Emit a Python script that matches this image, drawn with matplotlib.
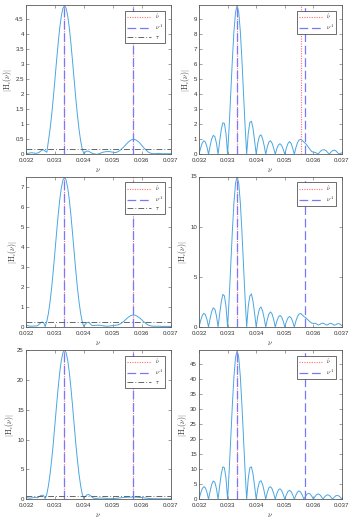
import numpy as np
import matplotlib
matplotlib.use('Agg')
import matplotlib.pyplot as plt
from matplotlib.ticker import FuncFormatter
from matplotlib.lines import Line2D

plt.rcParams['font.family'] = ['Liberation Sans', 'DejaVu Sans']
plt.rcParams['mathtext.fontset'] = 'cm'

# frequency grid (nu) shared by all panels
nu = np.linspace(0.032, 0.037, 91)

# |H_c(nu)|, one array per panel
h_tl = [0.02, 0.03, 0.04, 0.05, 0.05, 0.04, 0.03, 0.04, 0.06, 0.10,
        0.14, 0.15, 0.10, 0.07, 0.46, 0.84, 1.32, 1.87, 2.48, 3.09,
        3.68, 4.20, 4.60, 4.86, 4.95, 4.86, 4.60, 4.20, 3.68, 3.09,
        2.48, 1.87, 1.32, 0.84, 0.46, 0.18, 0.02, 0.08, 0.11, 0.10,
        0.07, 0.04, 0.02, 0.01, 0.00, 0.01, 0.03, 0.05, 0.07, 0.08,
        0.09, 0.09, 0.09, 0.08, 0.07, 0.06, 0.06, 0.08, 0.11, 0.15,
        0.20, 0.25, 0.31, 0.37, 0.42, 0.46, 0.49, 0.50, 0.49, 0.46,
        0.42, 0.37, 0.30, 0.24, 0.18, 0.13, 0.08, 0.05, 0.03, 0.02,
        0.02, 0.02, 0.03, 0.03, 0.02, 0.02, 0.02, 0.02, 0.02, 0.02,
        0.02]
h_tr = [0.00, 0.41, 0.74, 0.90, 0.82, 0.50, 0.00, 0.56, 1.02, 1.26,
        1.17, 0.73, 0.00, 0.86, 1.64, 2.10, 2.05, 1.35, 0.00, 1.89,
        4.09, 6.30, 8.19, 9.45, 9.90, 9.45, 8.19, 6.30, 4.09, 1.89,
        0.00, 1.40, 2.12, 2.20, 1.72, 0.90, 0.00, 0.75, 1.20, 1.30,
        1.05, 0.58, 0.00, 0.50, 0.82, 0.90, 0.74, 0.41, 0.00, 0.38,
        0.63, 0.70, 0.59, 0.33, 0.00, 0.42, 0.72, 0.85, 0.72, 0.40,
        0.00, 0.45, 0.78, 0.95, 1.00, 0.92, 0.82, 0.72, 0.60, 0.45,
        0.30, 0.18, 0.14, 0.13, 0.08, 0.01, 0.15, 0.25, 0.30, 0.30,
        0.24, 0.12, 0.01, 0.14, 0.24, 0.28, 0.24, 0.14, 0.02, 0.06,
        0.10]
h_ml = [0.08, 0.07, 0.05, 0.04, 0.04, 0.05, 0.05, 0.06, 0.12, 0.20,
        0.25, 0.22, 0.02, 0.30, 0.70, 1.28, 1.99, 2.84, 3.75, 4.69,
        5.58, 6.37, 6.97, 7.37, 7.50, 7.37, 6.97, 6.37, 5.58, 4.69,
        3.75, 2.84, 1.99, 1.28, 0.70, 0.28, 0.02, 0.15, 0.22, 0.24,
        0.16, 0.08, 0.07, 0.08, 0.09, 0.09, 0.09, 0.08, 0.06, 0.05,
        0.04, 0.04, 0.05, 0.06, 0.07, 0.08, 0.09, 0.10, 0.13, 0.17,
        0.23, 0.29, 0.37, 0.44, 0.51, 0.56, 0.59, 0.60, 0.59, 0.55,
        0.50, 0.44, 0.37, 0.29, 0.22, 0.16, 0.10, 0.07, 0.05, 0.04,
        0.04, 0.04, 0.04, 0.04, 0.03, 0.03, 0.03, 0.03, 0.03, 0.03,
        0.03]
h_mr = [0.00, 0.62, 1.13, 1.36, 1.24, 0.75, 0.00, 0.84, 1.55, 1.91,
        1.77, 1.10, 0.00, 1.30, 2.48, 3.25, 3.10, 2.05, 0.00, 2.87,
        6.20, 9.56, 12.41, 14.33, 15.00, 14.33, 12.41, 9.56, 6.20, 2.87,
        0.00, 2.05, 3.10, 3.30, 2.55, 1.35, 0.00, 1.10, 1.80, 2.00,
        1.62, 0.88, 0.00, 0.75, 1.30, 1.50, 1.30, 0.75, 0.00, 0.58,
        1.00, 1.15, 1.00, 0.58, 0.00, 0.53, 0.91, 1.05, 0.91, 0.53,
        0.00, 0.60, 1.05, 1.30, 1.35, 1.20, 1.05, 0.95, 0.80, 0.65,
        0.50, 0.38, 0.35, 0.38, 0.30, 0.20, 0.25, 0.35, 0.38, 0.32,
        0.20, 0.22, 0.33, 0.37, 0.30, 0.18, 0.22, 0.32, 0.34, 0.25,
        0.12]
h_bl = [0.30, 0.25, 0.20, 0.20, 0.25, 0.30, 0.30, 0.25, 0.40, 0.60,
        0.70, 0.60, 0.10, 0.92, 2.33, 4.25, 6.63, 9.38, 12.50, 15.63,
        18.60, 21.20, 23.25, 24.55, 25.00, 24.55, 23.25, 21.20, 18.60, 15.63,
        12.50, 9.38, 6.63, 4.25, 2.33, 0.92, 0.10, 0.50, 0.75, 0.80,
        0.65, 0.40, 0.20, 0.15, 0.15, 0.18, 0.20, 0.20, 0.20, 0.18,
        0.15, 0.12, 0.10, 0.10, 0.12, 0.14, 0.16, 0.19, 0.22, 0.25,
        0.28, 0.31, 0.33, 0.35, 0.36, 0.37, 0.37, 0.37, 0.36, 0.35,
        0.33, 0.31, 0.28, 0.25, 0.22, 0.19, 0.16, 0.13, 0.11, 0.10,
        0.10, 0.10, 0.09, 0.09, 0.09, 0.08, 0.08, 0.08, 0.08, 0.08,
        0.08]
h_br = [0.00, 1.95, 3.50, 4.20, 3.85, 2.35, 0.00, 2.70, 4.95, 6.10,
        5.65, 3.50, 0.00, 4.40, 8.40, 10.80, 10.50, 6.95, 0.00, 9.45,
        20.47, 31.53, 40.94, 47.27, 49.50, 47.27, 40.94, 31.53, 20.47, 9.45,
        0.00, 6.95, 10.50, 10.80, 8.40, 4.40, 0.00, 3.55, 5.75, 6.20,
        5.00, 2.75, 0.00, 2.35, 3.85, 4.20, 3.50, 1.95, 0.00, 1.90,
        3.15, 3.50, 2.95, 1.65, 0.00, 1.55, 2.60, 3.00, 2.55, 1.45,
        0.00, 1.40, 2.40, 2.80, 2.40, 1.40, 0.10, 1.00, 1.75, 2.00,
        1.75, 1.00, 0.05, 0.90, 1.55, 1.80, 1.55, 0.90, 0.05, 0.75,
        1.30, 1.50, 1.30, 0.75, 0.05, 0.65, 1.12, 1.30, 1.12, 0.65,
        0.05]

# estimated (nu_hat) and actual (nu_A) frequencies, thresholds
nu_a = [0.03333, 0.03571]
nu_hat_tl = [0.03333, 0.03571]
nu_hat_tr = [0.03333, 0.03558]
nu_hat_ml = [0.03333, 0.03571]
nu_hat_mr = [0.03333]
nu_hat_bl = [0.03333, 0.03571]
nu_hat_br = [0.03333]
tau_tl = 0.18
tau_ml = 0.23
tau_bl = 0.62

ymax = [4.97, 9.93, 7.55, 15.0, 25.0, 49.7]
ystep = [0.5, 1, 1, 5, 5, 5]

curve_col = '#4aa6e2'
hat_col = '#ff6f6f'
a_col = '#7878ff'
tau_col = '0.3'
frame_col = '0.35'

hat_ls = (0, (1, 1.2))
a_ls = (0, (7, 3))
tau_ls = (0, (7, 2.5, 1, 2.5))


def panel(ax, h, nu_hat, top, step, tau=None):
    ax.plot(nu, h, color=curve_col, lw=0.7)
    for v in nu_hat:
        ax.axvline(v, color=hat_col, lw=0.8, linestyle=hat_ls)
    for v in nu_a:
        ax.axvline(v, color=a_col, lw=0.9, linestyle=a_ls)
    handles = [Line2D([], [], color=hat_col, lw=0.8, linestyle=hat_ls),
               Line2D([], [], color=a_col, lw=0.9, linestyle=a_ls)]
    labels = [r'$\hat{\nu}$', r'$\nu^A$']
    if tau is not None:
        ax.axhline(tau, color=tau_col, lw=0.6, linestyle=tau_ls)
        handles.append(Line2D([], [], color=tau_col, lw=0.6, linestyle=tau_ls))
        labels.append(r'$\tau$')
    ax.set_xlim(0.032, 0.037)
    ax.set_ylim(0, top)
    ax.set_xticks([0.032, 0.033, 0.034, 0.035, 0.036, 0.037])
    ax.xaxis.set_major_formatter(FuncFormatter(lambda v, p: '%.3f' % v))
    ax.set_yticks(np.arange(0, top + 1e-9, step))
    ax.yaxis.set_major_formatter(FuncFormatter(lambda v, p: '%g' % v))
    ax.tick_params(direction='in', length=2, width=0.4, labelsize=4.4,
                   top=True, right=True, colors=frame_col, labelcolor='0.2')
    ax.tick_params(axis='x', pad=2.8)
    ax.tick_params(axis='y', pad=1.5)
    for s in ax.spines.values():
        s.set_linewidth(0.6)
        s.set_color(frame_col)
    ax.set_xlabel(r'$\nu$', fontsize=5.5, labelpad=2, color='0.2')
    ax.set_ylabel(r'$|\mathrm{H}_c(\nu)|$', fontsize=5.5, labelpad=1, color='0.2')
    leg = ax.legend(handles, labels, loc='upper right', fontsize=4,
                    handlelength=4.2, borderaxespad=1.0, borderpad=0.35,
                    labelspacing=0.25, handletextpad=0.8, fancybox=False,
                    framealpha=1, edgecolor='0.2')
    leg.get_frame().set_linewidth(0.5)


fig = plt.figure(figsize=(3.51, 5.21), dpi=100)
W, H = 351, 521
lefts = [26 / W, 199 / W]
widths = [144.5 / W, 143 / W]
rows = [(5, 154.3), (176.5, 327), (350, 499.3)]

data = [(h_tl, nu_hat_tl, tau_tl), (h_tr, nu_hat_tr, None),
        (h_ml, nu_hat_ml, tau_ml), (h_mr, nu_hat_mr, None),
        (h_bl, nu_hat_bl, tau_bl), (h_br, nu_hat_br, None)]

for k, (h, nh, tau) in enumerate(data):
    r, c = divmod(k, 2)
    y0, y1 = rows[r]
    ax = fig.add_axes([lefts[c], 1 - y1 / H, widths[c], (y1 - y0) / H])
    panel(ax, h, nh, ymax[k], ystep[k], tau)

fig.savefig('out.png', dpi=100)
